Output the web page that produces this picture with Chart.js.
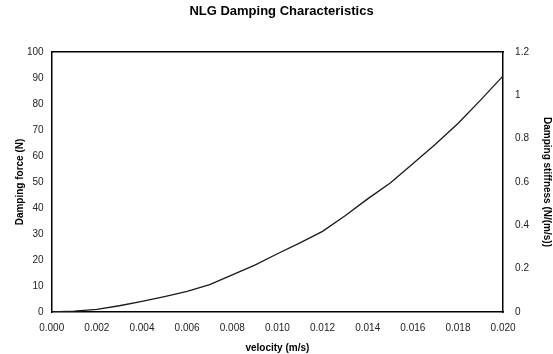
<!DOCTYPE html>
<html>
<head>
<meta charset="utf-8">
<script src="https://cdn.jsdelivr.net/npm/chart.js@4"></script>
<style>
  html, body { margin: 0; padding: 0; background: #fff; }
  #wrap { width: 553px; height: 354px; }
</style>
</head>
<body>
<div id="wrap"><canvas id="chart"></canvas></div>
<script>
// data
const velocity = [0, 0.001, 0.002, 0.003, 0.004, 0.005, 0.006, 0.007, 0.008, 0.009, 0.010,
                  0.011, 0.012, 0.013, 0.014, 0.015, 0.016, 0.017, 0.018, 0.019, 0.020];
const dampingForce = [0, 0.3, 1.0, 2.4, 4.1, 5.9, 7.9, 10.5, 14.3, 18.0, 22.4,
                      26.6, 31.0, 37.0, 43.5, 49.6, 57.0, 64.5, 72.5, 81.5, 90.8];
const xTicks = [0, 0.002, 0.004, 0.006, 0.008, 0.010, 0.012, 0.014, 0.016, 0.018, 0.020];

const points = velocity.map((v, i) => ({ x: v, y: dampingForce[i] }));

const tickFont = { family: 'Liberation Sans, Arial', size: 10 };
const titleFont = { family: 'Liberation Sans, Arial', size: 10, weight: 'bold' };

window.onload = () => {
  const ctx = document.getElementById('chart').getContext('2d');
  new Chart(ctx, {
    type: 'line',
    data: {
      datasets: [{
        label: 'Damping force',
        data: points,
        borderColor: '#1a1a1a',
        borderWidth: 1.3,
        pointRadius: 0,
        tension: 0,
        yAxisID: 'y'
      }]
    },
    options: {
      responsive: true,
      maintainAspectRatio: false,
      animation: false,
      layout: { padding: { left: 10, right: 0, top: 4, bottom: 0 } },
      plugins: {
        legend: { display: false },
        tooltip: { enabled: false },
        title: {
          display: true,
          text: 'NLG Damping Characteristics',
          color: '#000',
          font: { family: 'Liberation Sans, Arial', size: 13, weight: 'bold' },
          padding: { top: 0, bottom: 32.4 }
        }
      },
      scales: {
        x: {
          type: 'linear',
          min: 0, max: 0.02,
          afterBuildTicks: axis => { axis.ticks = xTicks.map(v => ({ value: v })); },
          grid: { display: false },
          border: { color: '#000', width: 1.5 },
          ticks: { color: '#222', font: tickFont, maxRotation: 0, padding: 2,
                   callback: v => Number(v).toFixed(3) },
          title: { display: true, text: 'velocity (m/s)', color: '#000', font: titleFont,
                   padding: { top: 6, bottom: 0 } }
        },
        xTop: {
          type: 'linear', position: 'top', min: 0, max: 0.02,
          grid: { display: false, drawTicks: false },
          border: { color: '#000', width: 1.5 },
          ticks: { display: false }
        },
        y: {
          position: 'left',
          min: 0, max: 100,
          ticks: { stepSize: 10, color: '#222', font: tickFont, padding: 0 },
          grid: { display: false },
          border: { color: '#000', width: 1.5 },
          title: { display: true, text: 'Damping force (N)', color: '#000', font: titleFont,
                   padding: { top: 4, bottom: 1 } }
        },
        y2: {
          position: 'right',
          min: 0, max: 1.2,
          ticks: { stepSize: 0.2, color: '#222', font: tickFont, padding: 4,
                   callback: v => String(Math.round(v * 10) / 10) },
          grid: { display: false },
          border: { color: '#000', width: 1.5 },
          title: { display: true, text: 'Damping stiffness (N/(m/s))', color: '#000', font: titleFont,
                   padding: { top: 0, bottom: 8 } }
        }
      }
    }
  });
};
</script>
</body>
</html>
